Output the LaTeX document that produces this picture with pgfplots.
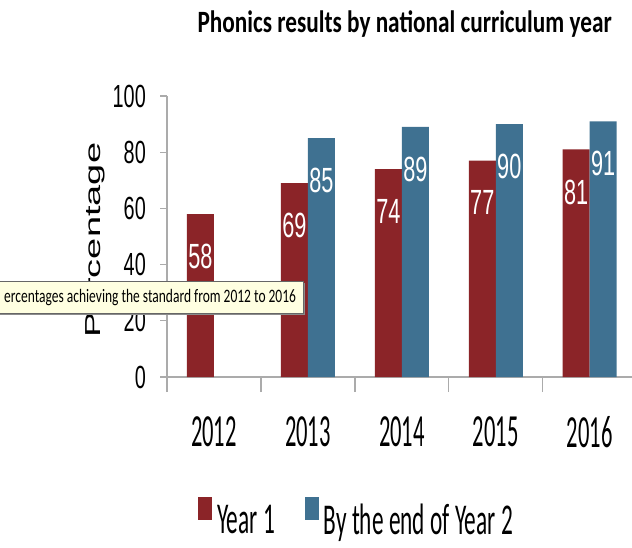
\documentclass[border=0pt]{standalone}
\usepackage{graphicx}
\usepackage{pgfplots}
\pgfplotsset{compat=1.18}
\usepackage{fontspec}
\setmainfont{Carlito}
\newfontfamily\lib{Liberation Sans}
\definecolor{barred}{HTML}{8B2428}
\definecolor{barblue}{HTML}{3F7191}
\definecolor{axgray}{HTML}{ABABAB}
\definecolor{tipfill}{HTML}{FFFFE1}
\newcommand\xl[1]{\scalebox{0.49}[1]{\fontsize{46}{46}\selectfont #1}}
\newcommand\legtxt[1]{\scalebox{0.53}[1]{\fontsize{44}{44}\selectfont #1}}
\begin{document}
\begin{tikzpicture}
\path[use as bounding box] (0pt,0pt) rectangle (632pt,547pt);
\begin{axis}[
  at={(167pt,170pt)}, anchor=south west,
  scale only axis, width=465pt, height=281pt,
  xmin=-0.5, xmax=4.45, ymin=0, ymax=100,
  axis lines=left,
  axis line style={-, draw=axgray, line width=1.6pt},
  tick align=outside,
  major tick length=7pt,
  minor tick length=15pt,
  every tick/.style={draw=axgray, line width=1.3pt},
  every major x tick/.append style={draw=none},
  ytick={0,20,40,60,80,100},
  yticklabel={\scalebox{0.62}[1]{\lib\fontsize{32}{32}\selectfont\pgfmathprintnumber[assume math mode=true]{\tick}}},
  yticklabel style={inner sep=0pt, anchor=east, xshift=-14pt},
  xtick={0,1,2,3,4},
  xticklabels={\xl{2012},\xl{2013},\xl{2014},\xl{2015},\xl{2016}},
  xticklabel style={inner sep=0pt, anchor=north, yshift=-32pt},
  minor xtick={-0.5,0.5,1.5,2.5,3.5},
  ybar=0pt, bar width=27pt,
  nodes near coords={\scalebox{0.62}[1]{\pgfmathprintnumber[assume math mode=true]{\pgfplotspointmeta}}},
  every node near coord/.append style={font=\lib\fontsize{35}{35}\selectfont, text=white, anchor=north, inner sep=0pt, yshift=-30pt},
  title={\scalebox{0.75}[1]{\bfseries\fontsize{31}{31}\selectfont Phonics results by national curriculum year}},
  title style={at={(axis description cs:0.511,1.206)}, anchor=base, inner sep=0pt},
  ylabel={\scalebox{1}[0.57]{\lib\fontsize{38}{38}\selectfont Percentage}},
  ylabel style={at={(axis description cs:-0.155,0.4875)}, anchor=center, inner sep=0pt},
  legend columns=2,
  legend cell align=left,
  legend style={at={(axis description cs:0.0667,-0.427)}, anchor=north west, draw=none, fill=none, inner sep=0pt,
    nodes={inner sep=0pt},
    /tikz/every odd column/.append style={column sep=5pt},
    /tikz/every even column/.append style={column sep=30pt}},
]
\addplot[fill=barred, draw=none, legend image code/.code={\fill[barred] (0pt,0pt) rectangle (14pt,23pt);}]
  coordinates {(0,58) (1,69) (2,74) (3,77) (4,81)};
\addlegendentry{\legtxt{Year 1}}
\addplot[fill=barblue, draw=none, legend image code/.code={\fill[barblue] (0pt,0pt) rectangle (14pt,23pt);}]
  coordinates {(1,85) (2,89) (3,90) (4,91)};
\addlegendentry{\legtxt{By the end of Year 2}}
\end{axis}
\fill[black!45] (-3pt,232pt) rectangle (305pt,264pt);
\filldraw[fill=tipfill, draw=black!60, line width=0.8pt] (-5pt,234pt) rectangle (303pt,266pt);
\node[anchor=base west, inner sep=0pt] at (4pt,244pt) {\scalebox{0.71}[1]{\fontsize{19}{19}\selectfont ercentages achieving the standard from 2012 to 2016}};
\end{tikzpicture}
\end{document}
